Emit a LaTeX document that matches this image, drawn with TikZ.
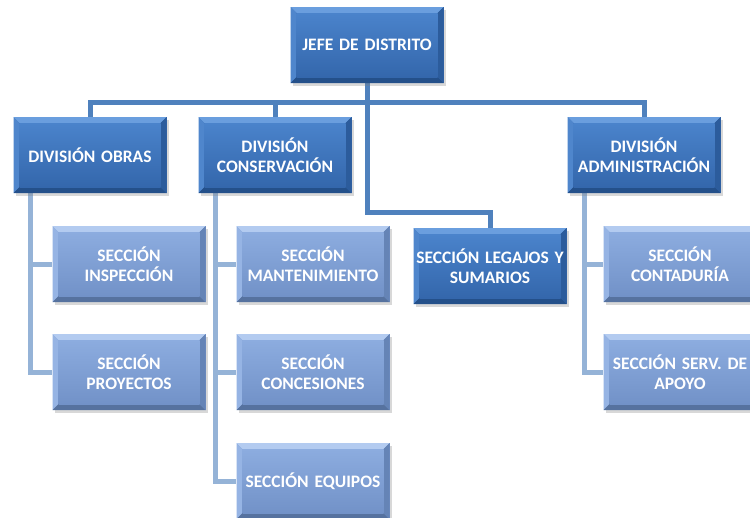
\documentclass[tikz,border=0pt]{standalone}
\usepackage{fontspec}
\setmainfont{Carlito}
\usetikzlibrary{shadows,backgrounds,calc}
\definecolor{dkTop}{HTML}{6A9EDE}
\definecolor{dkLeft}{HTML}{4F86CC}
\definecolor{dkInA}{HTML}{4A83CB}
\definecolor{dkInB}{HTML}{3467AC}
\definecolor{dkBot}{HTML}{24508A}
\definecolor{dkRight}{HTML}{2C5C9C}
\definecolor{ltTop}{HTML}{B3CBF0}
\definecolor{ltLeft}{HTML}{96B4E4}
\definecolor{ltInA}{HTML}{8CACDF}
\definecolor{ltInB}{HTML}{7292C8}
\definecolor{ltBot}{HTML}{56729F}
\definecolor{ltRight}{HTML}{6584B6}
\definecolor{lineTop}{HTML}{4F81BD}
\definecolor{lineSub}{HTML}{95B3D7}
\newcommand{\bevelbox}[6]{%
  \coordinate (bnw) at (path picture bounding box.north west);
  \coordinate (bne) at (path picture bounding box.north east);
  \coordinate (bsw) at (path picture bounding box.south west);
  \coordinate (bse) at (path picture bounding box.south east);
  \fill[#1] (bnw) -- (bne) -- ($(bne)+(-6pt,-6pt)$) -- ($(bnw)+(6pt,-6pt)$) -- cycle;
  \fill[#2] (bnw) -- ($(bnw)+(6pt,-6pt)$) -- ($(bsw)+(6pt,6pt)$) -- (bsw) -- cycle;
  \fill[#5] (bsw) -- ($(bsw)+(6pt,6pt)$) -- ($(bse)+(-6pt,6pt)$) -- (bse) -- cycle;
  \fill[#6] (bne) -- (bse) -- ($(bse)+(-6pt,6pt)$) -- ($(bne)+(-6pt,-6pt)$) -- cycle;
  \shade[top color=#3,bottom color=#4] ($(bnw)+(6pt,-6pt)$) rectangle ($(bse)+(-6pt,6pt)$);
}
\tikzset{
  orgbox/.style={rectangle, minimum width=153pt, minimum height=76pt,
    text width=152pt, inner sep=0.5pt, align=center, text=white,
    font=\fontsize{17.5}{20}\selectfont\bfseries,
    drop shadow={opacity=0.3, shadow xshift=2pt, shadow yshift=-3pt}},
  darkbox/.style={orgbox, fill=dkInB,
    path picture={\bevelbox{dkTop}{dkLeft}{dkInA}{dkInB}{dkBot}{dkRight}}},
  lightbox/.style={orgbox, fill=ltInB,
    path picture={\bevelbox{ltTop}{ltLeft}{ltInA}{ltInB}{ltBot}{ltRight}}},
  topline/.style={draw=lineTop, line width=5pt},
  subline/.style={draw=lineSub, line width=5pt},
}
\begin{document}
\begin{tikzpicture}[x=1pt,y=-1pt]
\useasboundingbox (0,0) rectangle (750,517);
\clip (0,0) rectangle (750,517);

\node[darkbox] (jefe) at (367,45) {JEFE DE DISTRITO};
\node[darkbox] (obras) at (90,155) {DIVISIÓN OBRAS};
\node[darkbox] (cons) at (275,155) {DIVISIÓN\\CONSERVACIÓN};
\node[darkbox] (admin) at (644,155) {DIVISIÓN\\ADMINISTRACIÓN};
\node[darkbox] (leg) at (490,266) {SECCIÓN LEGAJOS Y\\SUMARIOS};

\node[lightbox] (insp) at (129,264) {SECCIÓN\\INSPECCIÓN};
\node[lightbox] (proy) at (129,372) {SECCIÓN\\PROYECTOS};
\node[lightbox] (mant) at (313,264) {SECCIÓN\\MANTENIMIENTO};
\node[lightbox] (conc) at (313,372) {SECCIÓN\\CONCESIONES};
\node[lightbox] (equi) at (313,481) {SECCIÓN EQUIPOS};
\node[lightbox] (cont) at (680,264) {SECCIÓN\\CONTADURÍA};
\node[lightbox] (apoyo) at (680,372) {SECCIÓN SERV. DE\\APOYO};

\coordinate (bus) at (367,102);
\coordinate (legtop) at ($(leg.north)+(0,-15)$);
\coordinate (obv) at ($(obras.south west)+(17,0)$);
\coordinate (cov) at ($(cons.south west)+(17,0)$);
\coordinate (adv) at ($(admin.south west)+(17,0)$);

\begin{scope}[on background layer]
  \fill[white] (0,0) rectangle (750,517);
  \draw[topline] (obras.north) -- (obras.north |- bus) -- (admin.north |- bus) -- (admin.north);
  \draw[topline] (cons.north) -- (cons.north |- bus);
  \draw[topline] (jefe.south) -- (jefe.south |- legtop) -- (legtop) -- (leg.north);
  \draw[subline] (obv) |- (insp.west);
  \draw[subline] (obv) |- (proy.west);
  \draw[subline] (cov) |- (mant.west);
  \draw[subline] (cov) |- (conc.west);
  \draw[subline] (cov) |- (equi.west);
  \draw[subline] (adv) |- (cont.west);
  \draw[subline] (adv) |- (apoyo.west);
\end{scope}
\end{tikzpicture}
\end{document}
